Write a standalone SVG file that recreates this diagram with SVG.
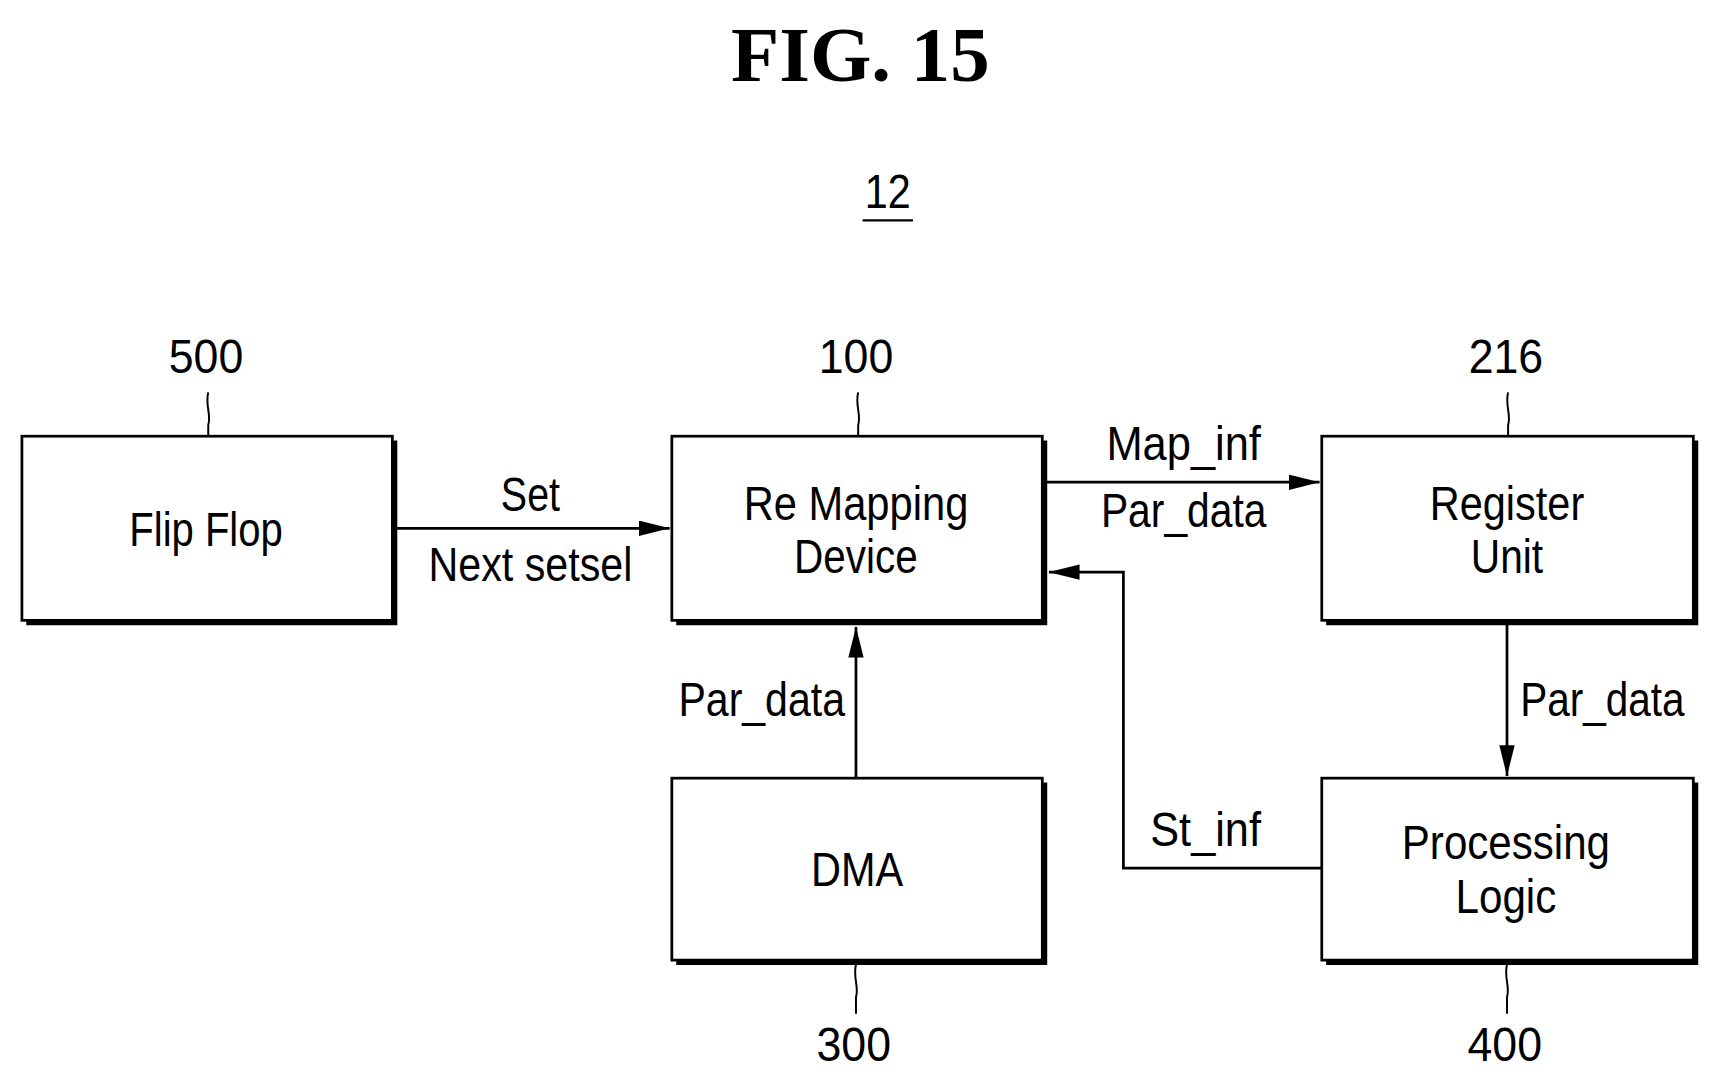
<svg xmlns="http://www.w3.org/2000/svg" width="1713" height="1079" viewBox="0 0 1713 1079">
<style>
.t{font-family:"Liberation Sans",Arial,sans-serif;font-size:44px;text-anchor:middle;fill:#000}
.b{fill:#fff;stroke:#000;stroke-width:2.5}
.s{fill:none;stroke:#000;stroke-width:5}
.l{fill:none;stroke:#000;stroke-width:2.5}
.q{fill:none;stroke:#000;stroke-width:1.8}
</style>
<defs><marker id="a" viewBox="0 0 28 14" refX="28" refY="7" markerWidth="28" markerHeight="14" markerUnits="userSpaceOnUse" orient="auto"><path d="M0,0L28,7L0,14z"/></marker></defs>
<rect width="1713" height="1079" fill="#fff"/>
<g transform="scale(1.096)">
<text x="785" y="74" style="font-family:'Liberation Serif',serif;font-weight:bold;font-size:72px;text-anchor:middle">FIG. 15</text>
<text class="t" x="810" y="190" textLength="42" lengthAdjust="spacingAndGlyphs">12</text>
<line x1="787" y1="201" x2="833" y2="201" stroke="#000" stroke-width="2"/>
<g id="n500"><path class="s" d="M24,568H360V402"/><rect class="b" x="20" y="398" width="338" height="168"/><text class="t" x="188" y="498" textLength="140" lengthAdjust="spacingAndGlyphs">Flip Flop</text><text class="t" x="188" y="340" textLength="68" lengthAdjust="spacingAndGlyphs">500</text><path class="q" d="M190,358c-3,12 3,20 0,30v10"/></g>
<g id="n100"><path class="s" d="M617,568H953V402"/><rect class="b" x="613" y="398" width="338" height="168"/><text class="t" x="781" y="474" textLength="205" lengthAdjust="spacingAndGlyphs">Re Mapping</text><text class="t" x="781" y="523" textLength="113" lengthAdjust="spacingAndGlyphs">Device</text><text class="t" x="781" y="340" textLength="68" lengthAdjust="spacingAndGlyphs">100</text><path class="q" d="M783,358c-3,12 3,20 0,30v10"/></g>
<g id="n216"><path class="s" d="M1210,568H1547V402"/><rect class="b" x="1206" y="398" width="339" height="168"/><text class="t" x="1375" y="474" textLength="141" lengthAdjust="spacingAndGlyphs">Register</text><text class="t" x="1375" y="523" textLength="66" lengthAdjust="spacingAndGlyphs">Unit</text><text class="t" x="1374" y="340" textLength="68" lengthAdjust="spacingAndGlyphs">216</text><path class="q" d="M1376,358c-3,12 3,20 0,30v10"/></g>
<g id="n300"><path class="s" d="M617,878H953V714"/><rect class="b" x="613" y="710" width="338" height="166"/><text class="t" x="782" y="808" textLength="84" lengthAdjust="spacingAndGlyphs">DMA</text><text class="t" x="779" y="968" textLength="68" lengthAdjust="spacingAndGlyphs">300</text><path class="q" d="M781,880c-3,12 3,20 0,30v15"/></g>
<g id="n400"><path class="s" d="M1210,878H1547V714"/><rect class="b" x="1206" y="710" width="339" height="166"/><text class="t" x="1374" y="784" textLength="190" lengthAdjust="spacingAndGlyphs">Processing</text><text class="t" x="1374" y="833" textLength="92" lengthAdjust="spacingAndGlyphs">Logic</text><text class="t" x="1373" y="968" textLength="68" lengthAdjust="spacingAndGlyphs">400</text><path class="q" d="M1375,880c-3,12 3,20 0,30v15"/></g>
<g id="connectors">
<line class="l" x1="362" y1="482" x2="611" y2="482" marker-end="url(#a)"/>
<text class="t" x="484" y="466" textLength="54" lengthAdjust="spacingAndGlyphs">Set</text>
<text class="t" x="484" y="530" textLength="186" lengthAdjust="spacingAndGlyphs">Next setsel</text>
<line class="l" x1="955" y1="440" x2="1204" y2="440" marker-end="url(#a)"/>
<text class="t" x="1080" y="420" textLength="141" lengthAdjust="spacingAndGlyphs">Map_inf</text>
<text class="t" x="1080" y="481" textLength="151" lengthAdjust="spacingAndGlyphs">Par_data</text>
<path class="l" d="M1206,792H1025V522H957" marker-end="url(#a)"/>
<text class="t" x="1100" y="772" textLength="101" lengthAdjust="spacingAndGlyphs">St_inf</text>
<line class="l" x1="781" y1="710" x2="781" y2="572" marker-end="url(#a)"/>
<text class="t" x="695" y="653" textLength="152" lengthAdjust="spacingAndGlyphs">Par_data</text>
<line class="l" x1="1375" y1="570" x2="1375" y2="708" marker-end="url(#a)"/>
<text class="t" x="1462" y="653" textLength="150" lengthAdjust="spacingAndGlyphs">Par_data</text>
</g>
</g>
</svg>
